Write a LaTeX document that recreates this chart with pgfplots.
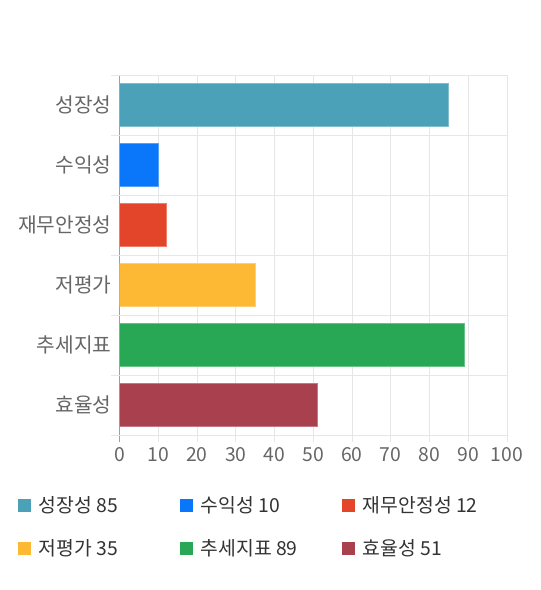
\documentclass[border=0pt]{standalone}
\usepackage{fontspec}
\setmainfont{Noto Sans CJK KR}
\usepackage{pgfplots}
\pgfplotsset{compat=1.18}
\definecolor{cA}{HTML}{4BA1B8}
\definecolor{cB}{HTML}{0A77FB}
\definecolor{cC}{HTML}{E2452A}
\definecolor{cD}{HTML}{FDB933}
\definecolor{cE}{HTML}{28A855}
\definecolor{cF}{HTML}{A8404E}
\definecolor{tick}{HTML}{666666}
\definecolor{leg}{HTML}{333333}
\definecolor{gridc}{HTML}{E6E6E6}
\definecolor{axisc}{HTML}{A0A0A0}
\newcommand{\fs}{\fontsize{14.5pt}{17pt}\selectfont}
\newcommand{\fy}{\fontsize{15.2pt}{17pt}\selectfont}
\pgfplotsset{
  mybar/.style={xbar, bar width=32pt, bar shift=0pt, fill=#1, draw=#1!70!white, line width=0.6pt,
    legend image code/.code={\fill[#1] (0pt,-4.5pt) rectangle (9pt,4.5pt);}},
}
\begin{document}
\begin{tikzpicture}
\useasboundingbox (0,0) rectangle (405pt,442.5pt);
\begin{axis}[
  at={(89.625pt,386.25pt)}, anchor=north west,
  scale only axis, width=290.6pt, height=270pt,
  xmin=0, xmax=100, ymin=-0.5, ymax=5.5, y dir=reverse,
  xtick={0,10,...,100},
  ytick={0,...,5},
  yticklabels={성장성,수익성,재무안정성,저평가,추세지표,효율성},
  axis line style={draw=none},
  xmajorgrids,
  grid style={color=gridc, line width=0.6pt},
  tick align=outside, major tick length=5.5pt,
  xtick pos=bottom, ytick pos=left,
  x tick style={color=gridc, line width=0.6pt},
  y tick style={draw=none},
  extra y ticks={-0.5,0.5,1.5,2.5,3.5,4.5,5.5},
  extra y tick labels={},
  extra y tick style={ymajorgrids, y tick style={draw=gridc, line width=0.6pt}, major tick length=6.5pt},
  extra x ticks={0},
  extra x tick labels={},
  extra x tick style={grid style={color=axisc, line width=0.6pt}, x tick style={draw=axisc, line width=0.6pt}},
  /pgf/number format/assume math mode=true,
  x tick label style={font=\fs, text=tick},
  y tick label style={font=\fy, text=tick, xshift=3pt},
  legend columns=3,
  legend style={draw=none, fill=none, inner sep=0pt, font=\fs, text=leg,
    at={(axis description cs:-0.263,-0.170)}, anchor=north west,
    nodes={inner sep=0pt},
    /tikz/every odd column/.append style={column sep=6pt},
    row sep=19pt},
]
\addplot[mybar=cA] coordinates {(85,0)};
\addlegendentry{\makebox[106pt][l]{성장성 85}}
\addplot[mybar=cB] coordinates {(10,1)};
\addlegendentry{\makebox[106pt][l]{수익성 10}}
\addplot[mybar=cC] coordinates {(12,2)};
\addlegendentry{\makebox[106pt][l]{재무안정성 12}}
\addplot[mybar=cD] coordinates {(35,3)};
\addlegendentry{\makebox[106pt][l]{저평가 35}}
\addplot[mybar=cE] coordinates {(89,4)};
\addlegendentry{\makebox[106pt][l]{추세지표 89}}
\addplot[mybar=cF] coordinates {(51,5)};
\addlegendentry{\makebox[106pt][l]{효율성 51}}
\end{axis}
\end{tikzpicture}
\end{document}
